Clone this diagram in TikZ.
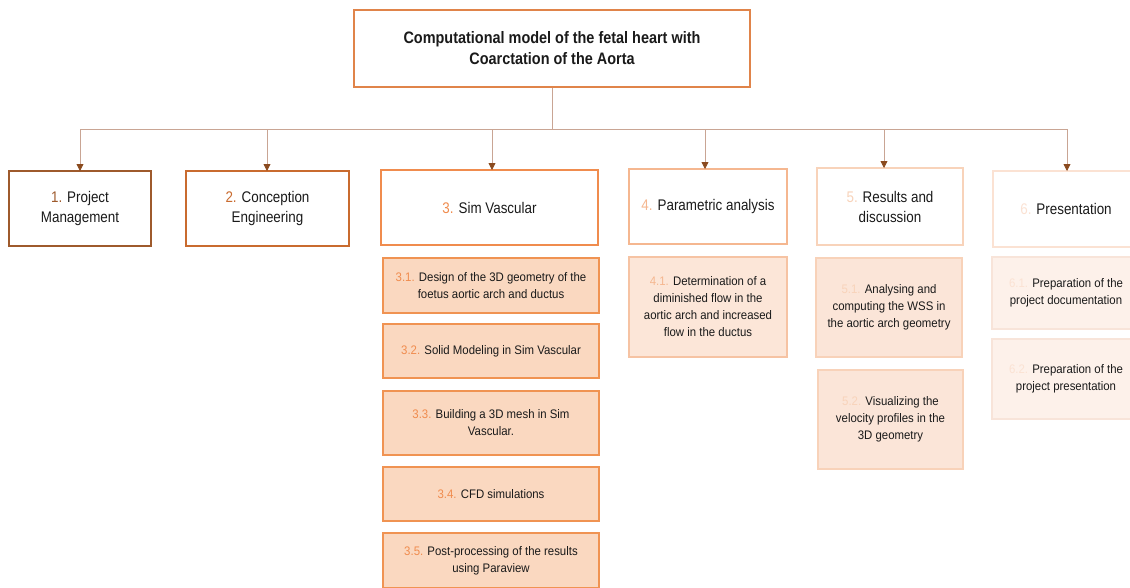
\documentclass[tikz,border=0pt]{standalone}
\usepackage{fontspec}
\setmainfont{Liberation Sans}
\newfontfamily\narrowA[FakeStretch=0.87]{Liberation Sans}
\newfontfamily\narrowB[FakeStretch=0.92]{Liberation Sans}
\usetikzlibrary{arrows.meta}
\definecolor{topc}{HTML}{E0844A}
\definecolor{busc}{HTML}{C9A594}
\definecolor{tipc}{HTML}{8A4A1E}
\definecolor{ca}{HTML}{9E5A2C}
\definecolor{cb}{HTML}{C96B2F}
\definecolor{cc}{HTML}{F08C4E}
\definecolor{cd}{HTML}{F5B790}
\definecolor{ce}{HTML}{F8D3BA}
\definecolor{cf}{HTML}{FBE2D3}
\definecolor{fc}{HTML}{FAD8C0}
\definecolor{fd}{HTML}{FCE6D8}
\definecolor{fe}{HTML}{FBE5D8}
\definecolor{ff}{HTML}{FDF1EA}
\definecolor{bc}{HTML}{F09352}
\definecolor{bd}{HTML}{F6C3A3}
\definecolor{be}{HTML}{F8D2B9}
\definecolor{bf}{HTML}{F8E4D9}
\definecolor{txt}{HTML}{1A1A1A}
\tikzset{
  box/.style={draw, line width=2pt, fill=white, inner sep=2pt, align=center, text=txt, font=\narrowA\fontsize{15.4}{20}\selectfont},
  sub/.style={draw, line width=1.4pt, inner sep=2pt, align=center, text=txt, font=\narrowB\fontsize{12.4}{17}\selectfont},
  bus/.style={draw=busc, line width=0.8pt},
  arr/.style={bus, -{Triangle[length=7pt,width=7pt,color=tipc]}, shorten >=-1pt}
}
\begin{document}
\begin{tikzpicture}[x=1pt,y=-1pt]
\useasboundingbox (0,0) rectangle (1130,587);
% top
\node[box, draw=topc, font=\narrowA\bfseries\fontsize{16.6}{21}\selectfont, minimum width=396pt, minimum height=77pt] (top) at (552,48.5) {Computational model of the fetal heart with\\Coarctation of the Aorta};
% level 1
\node[box, draw=ca, minimum width=142pt, minimum height=75pt] (n1) at (80,208.5) {\textcolor{ca}{1.} Project\\Management};
\node[box, draw=cb, minimum width=163pt, minimum height=75pt] (n2) at (267.5,208.5) {\textcolor{cb}{2.} Conception\\Engineering};
\node[box, draw=cc, minimum width=217pt, minimum height=75pt] (n3) at (489.5,207.5) {\textcolor{cc}{3.} Sim Vascular};
\node[box, draw=cd, minimum width=158pt, minimum height=75pt] (n4) at (708,206.5) {\textcolor{cd}{4.} Parametric analysis};
\node[box, draw=ce, minimum width=146pt, minimum height=77pt] (n5) at (890,206.5) {\textcolor{ce}{5.} Results and\\discussion};
\node[box, draw=cf, minimum width=146pt, minimum height=76pt] (n6) at (1066,209) {\textcolor{cf}{6.} Presentation};
% sub 3
\node[sub, draw=bc, fill=fc, minimum width=216pt, minimum height=55pt] (s31) at (491,285.5) {\textcolor{cc}{3.1.} Design of the 3D geometry of the\\foetus aortic arch and ductus};
\node[sub, draw=bc, fill=fc, minimum width=216pt, minimum height=54pt] (s32) at (491,351) {\textcolor{cc}{3.2.} Solid Modeling in Sim Vascular};
\node[sub, draw=bc, fill=fc, minimum width=216pt, minimum height=64pt] (s33) at (491,423) {\textcolor{cc}{3.3.} Building a 3D mesh in Sim\\Vascular.};
\node[sub, draw=bc, fill=fc, minimum width=216pt, minimum height=54pt] (s34) at (491,494) {\textcolor{cc}{3.4.} CFD simulations};
\node[sub, draw=bc, fill=fc, minimum width=216pt, minimum height=55pt] (s35) at (491,560.5) {\textcolor{cc}{3.5.} Post-processing of the results\\using Paraview};
% sub 4
\node[sub, draw=bd, fill=fd, minimum width=158pt, minimum height=100pt] (s41) at (708,307) {\textcolor{cd}{4.1.} Determination of a\\diminished flow in the\\aortic arch and increased\\flow in the ductus};
% sub 5
\node[sub, draw=be, fill=fe, minimum width=146pt, minimum height=99pt] (s51) at (889,307.5) {\textcolor{ce}{5.1.} Analysing and\\computing the WSS in\\the aortic arch geometry};
\node[sub, draw=be, fill=fe, minimum width=145pt, minimum height=99pt] (s52) at (890.5,419.5) {\textcolor{ce}{5.2.} Visualizing the\\velocity profiles in the\\3D geometry};
% sub 6
\node[sub, draw=bf, fill=ff, minimum width=148pt, minimum height=72pt] (s61) at (1066,293) {\textcolor{cf}{6.1.} Preparation of the\\project documentation};
\node[sub, draw=bf, fill=ff, minimum width=148pt, minimum height=80pt] (s62) at (1066,379) {\textcolor{cf}{6.2.} Preparation of the\\project presentation};
% bus
\coordinate (b1) at (80,129);
\coordinate (b2) at (267,129);
\coordinate (b3) at (492,129);
\coordinate (b4) at (705,129);
\coordinate (b5) at (884,129);
\coordinate (b6) at (1067,129);
\draw[bus] (top.south) -- (top.south |- b1);
\draw[bus] (b1) -- (b6);
\draw[arr] (b1) -- (b1 |- n1.north);
\draw[arr] (b2) -- (b2 |- n2.north);
\draw[arr] (b3) -- (b3 |- n3.north);
\draw[arr] (b4) -- (b4 |- n4.north);
\draw[arr] (b5) -- (b5 |- n5.north);
\draw[arr] (b6) -- (b6 |- n6.north);
\end{tikzpicture}
\end{document}
